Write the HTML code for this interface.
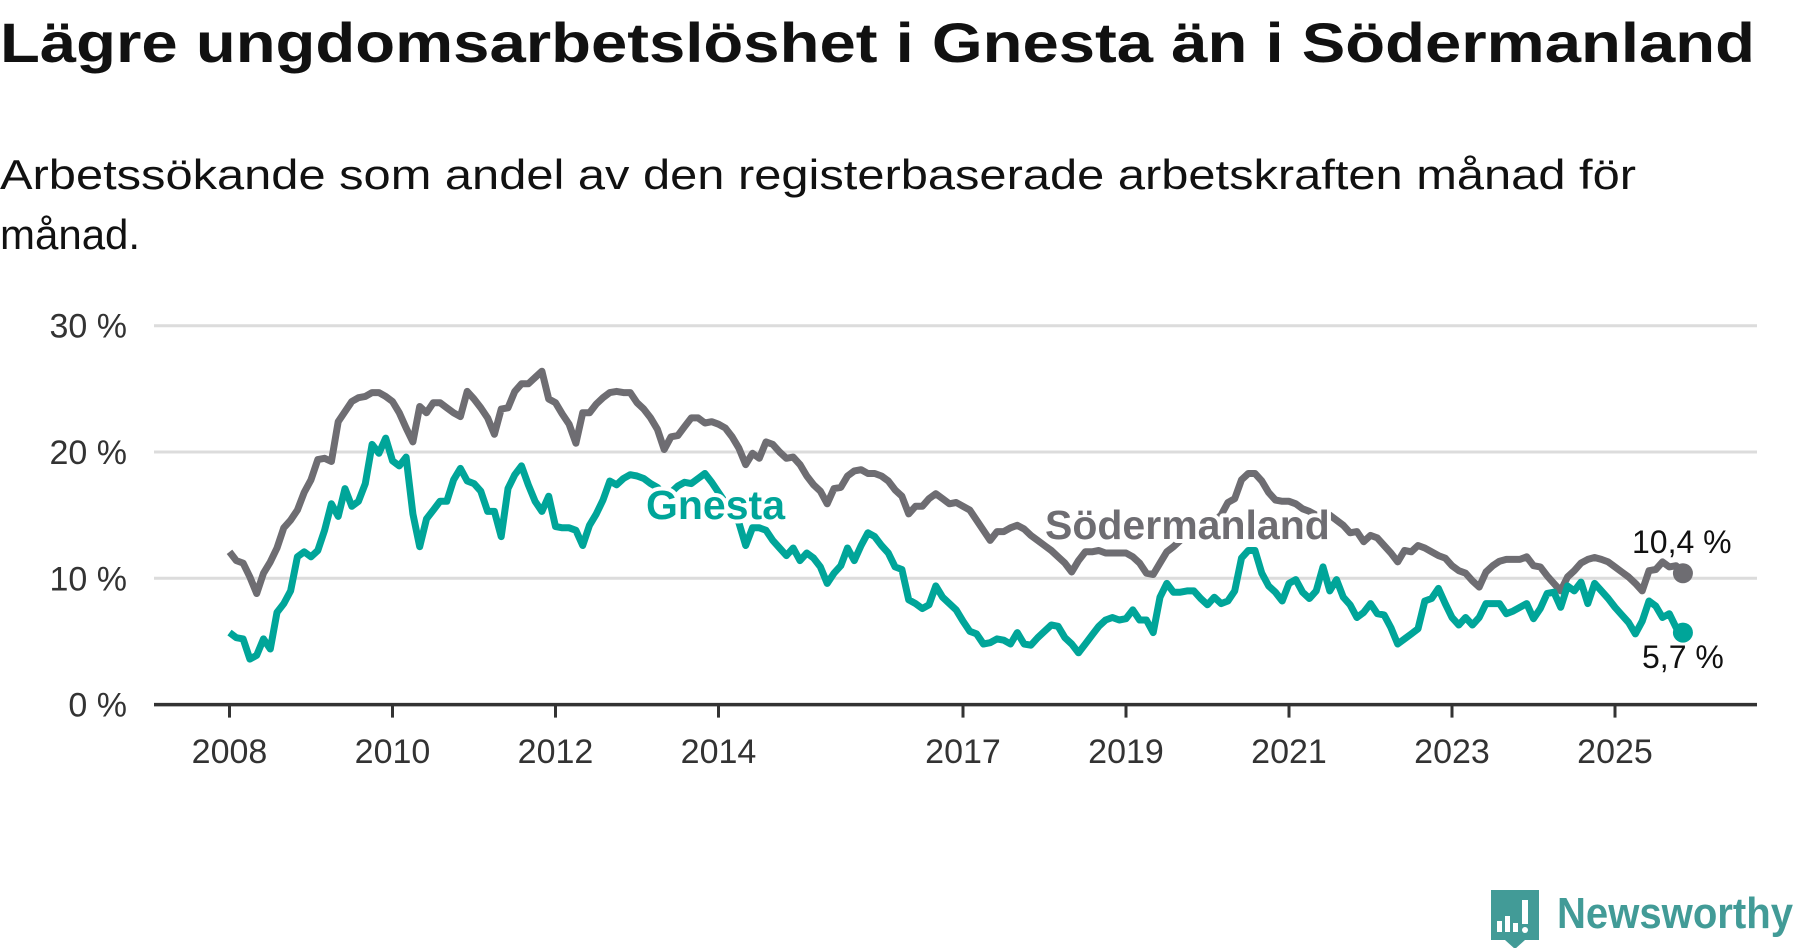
<!DOCTYPE html>
<html><head><meta charset="utf-8"><style>
html,body{margin:0;padding:0;background:#fff;width:1800px;height:948px;overflow:hidden}
svg{display:block;font-family:"Liberation Sans",sans-serif}
</style></head><body>
<svg id="chart" width="1800" height="948" viewBox="0 0 1800 948">
<text x="0" y="62" font-size="56" font-weight="bold" fill="#111" textLength="1755" lengthAdjust="spacingAndGlyphs">Lägre ungdomsarbetslöshet i Gnesta än i Södermanland</text>
<text x="0" y="189" font-size="42" fill="#111" textLength="1636" lengthAdjust="spacingAndGlyphs">Arbetssökande som andel av den registerbaserade arbetskraften månad för</text>
<text x="0" y="249" font-size="42" fill="#111">månad.</text>
<g id="grid"></g><g id="xaxis"></g><g id="series"></g><g id="labels"></g>
<g>
<path d="M1491 890 h48 v50 h-14 l-10 9 l-10 -9 h-14 z" fill="#429b97"/>
<rect x="1497" y="921" width="5" height="11" fill="#fff"/><rect x="1505" y="916" width="5" height="16" fill="#fff"/><rect x="1513" y="923" width="5" height="9" fill="#fff"/><rect x="1522" y="900" width="6" height="24" fill="#fff"/><circle cx="1525" cy="930" r="3" fill="#fff"/>
<text x="1557" y="928" font-size="44" font-weight="bold" fill="#429b97" textLength="236" lengthAdjust="spacingAndGlyphs">Newsworthy</text>
</g>
</svg>
<script>
const yTicks=[0,10,20,30];
const yTickLabels=["0 %","10 %","20 %","30 %"];
const xTickYears=[2008,2010,2012,2014,2017,2019,2021,2023,2025];
const startYear=2008, startMonth=0;
const sodermanland=[12.1,11.4,11.2,10.1,8.8,10.4,11.3,12.4,14.0,14.6,15.4,16.8,17.8,19.4,19.5,19.25,22.4,23.2,24.0,24.3,24.4,24.7,24.7,24.4,24.0,23.1,21.9,20.8,23.6,23.1,23.9,23.9,23.5,23.1,22.8,24.8,24.2,23.5,22.7,21.4,23.4,23.5,24.8,25.4,25.4,25.9,26.4,24.2,23.9,23.0,22.2,20.7,23.1,23.1,23.8,
24.3,24.7,24.8,24.7,24.7,23.9,23.4,22.7,21.8,20.2,21.2,21.3,22.0,22.7,22.7,22.3,22.4,22.2,21.9,21.2,20.3,19.0,19.9,19.5,20.8,20.6,20.0,19.5,19.6,19.0,18.1,17.4,16.9,15.9,17.1,17.2,18.1,18.5,18.6,18.3,18.3,18.1,17.7,17.0,16.5,15.1,15.7,15.7,16.3,16.7,16.3,15.9,16.0,15.7,
15.4,14.6,
13.8,13.0,13.7,13.7,14.0,14.2,13.9,13.4,13.0,12.6,12.2,11.7,11.2,10.5,11.4,12.1,12.1,12.2,12.0,12.0,12.0,12.0,11.7,11.2,10.4,10.3,11.2,
12.1,12.5,13.0,13.5,14.0,14.5,14.8,14.5,15.0,16.0,
16.3,17.8,18.3,18.3,17.7,16.8,16.2,16.1,16.1,15.9,
15.5,15.3,15.0,15.0,15.0,14.6,14.2,13.6,
13.7,12.9,13.4,13.2,12.6,12.0,11.3,12.2,12.1,12.6,12.4,12.1,11.8,11.6,11.0,10.6,10.4,9.8,9.3,10.5,11.0,11.35,11.5,11.5,11.5,11.7,11.0,10.9,10.2,9.6,9.0,10.1,10.6,11.2,11.5,11.65,11.5,11.3,10.9,10.5,10.1,9.6,9.0,10.6,10.7,11.3,10.9,11.0,10.4];
const gnesta=[5.7,5.3,5.2,3.6,3.9,5.2,4.4,7.3,8.0,9.0,11.7,12.1,11.7,12.2,13.8,15.9,14.9,17.1,15.7,16.1,17.5,20.6,19.9,21.1,19.3,18.9,19.6,15.1,12.5,14.7,15.4,16.1,16.1,17.8,18.7,17.7,17.5,16.9,15.3,15.3,13.3,17.1,18.2,18.9,17.4,16.1,15.3,16.5,14.1,14.0,14.0,13.8,12.6,14.2,15.1,
16.2,17.7,17.4,17.9,18.2,18.1,17.9,
17.5,17.2,16.6,16.8,17.3,17.6,17.5,17.9,18.3,17.6,16.8,16.0,15.3,14.4,12.6,
14.0,14.0,13.8,13.0,12.4,11.8,12.4,11.4,12.0,11.6,10.9,9.6,10.4,11.0,12.4,11.4,12.6,13.6,13.3,12.6,12.0,10.9,10.7,8.3,8.0,7.6,7.9,9.4,8.5,8.0,7.5,
6.6,5.8,5.6,4.8,4.9,5.2,5.1,4.8,5.7,4.8,4.7,5.3,5.8,6.3,6.2,5.3,4.8,4.1,4.8,5.5,6.2,6.7,6.9,6.7,6.8,7.5,6.7,6.7,5.7,8.5,9.6,8.9,8.9,9.0,9.0,8.4,7.9,8.5,8.0,8.2,9.0,11.6,12.2,12.2,10.4,9.4,8.9,8.2,9.6,9.9,8.9,8.4,9.0,10.9,9.0,9.9,8.5,7.9,
6.9,7.3,8.0,7.2,7.1,6.1,4.8,5.2,5.6,6.0,8.2,8.4,9.2,8.0,6.9,6.3,6.9,6.3,6.9,8.0,8.0,8.0,7.2,7.4,7.7,8.0,6.8,7.6,8.8,8.9,7.7,9.4,9.0,9.7,8.0,9.6,9.0,8.4,7.7,7.1,6.5,5.6,6.6,8.2,7.8,6.9,7.2,6.1,5.7];

const NS="http://www.w3.org/2000/svg";
const x0=229.5, pxYear=81.5, yZero=704.6, pxPct=12.63;
function xYear(t){return x0+(t-2008)*pxYear;}
function xIdx(i){return xYear(startYear+(startMonth+i)/12);}
function yVal(v){return yZero-v*pxPct;}
function mk(tag,attrs,parent){const e=document.createElementNS(NS,tag);for(const k in attrs)e.setAttribute(k,attrs[k]);parent.appendChild(e);return e;}
const grid=document.getElementById('grid'), xa=document.getElementById('xaxis'), ser=document.getElementById('series'), lab=document.getElementById('labels');

yTicks.forEach((v,i)=>{
  if(v>0){const l=mk('line',{x1:154,x2:1757,y1:yVal(v),y2:yVal(v),stroke:'#dcdcdc','stroke-width':3},grid);
  
  }
  const t=mk('text',{x:127,y:yVal(v)+12,'text-anchor':'end','font-size':34,fill:'#333'},grid);
  t.textContent=yTickLabels[i];
  
  
});
const ax=mk('line',{x1:154,x2:1757,y1:yZero,y2:yZero,stroke:'#333','stroke-width':3.5},xa);


xTickYears.forEach(yr=>{
  const x=xYear(yr);
  const tk=mk('line',{x1:x,x2:x,y1:yZero,y2:yZero+13,stroke:'#333','stroke-width':3},xa);
  
  
  const t=mk('text',{x:x,y:763,'text-anchor':'middle','font-size':34,fill:'#333'},xa);
  t.textContent=yr;
  
  
});
function line(arr,color,name){
  const d=arr.map((v,i)=>(i?'L':'M')+xIdx(i).toFixed(1)+' '+yVal(v).toFixed(1)).join(' ');
  const p=mk('path',{d:d,fill:'none',stroke:color,'stroke-width':7,'stroke-linejoin':'round'},ser);
  
  
  const n=arr.length-1;
  const c=mk('circle',{cx:xIdx(n),cy:yVal(arr[n]),r:10,fill:color},ser);
  
  
}
line(sodermanland,'#6e6d72','sodermanland-line');
line(gnesta,'#00a599','gnesta-line');
function label(txt,x,y,size,color,weight,name,halo){
  const t=mk('text',{x:x,y:y,'font-size':size,fill:color,'font-weight':weight},lab);
  if(halo){t.setAttribute('stroke','#fff');t.setAttribute('stroke-width',8);t.setAttribute('paint-order','stroke');t.setAttribute('stroke-linejoin','round');}
  t.textContent=txt;
  
  
  return t;
}
label('Gnesta',646,519,41,'#00a599','bold','gnesta-series-label',true);
label('Södermanland',1045,539,41,'#6e6d72','bold','sodermanland-series-label',true);
label('10,4 %',1632,553,32,'#111','normal','sodermanland-end-value',false);
label('5,7 %',1642,668,32,'#111','normal','gnesta-end-value',false);
</script>
</body></html>
